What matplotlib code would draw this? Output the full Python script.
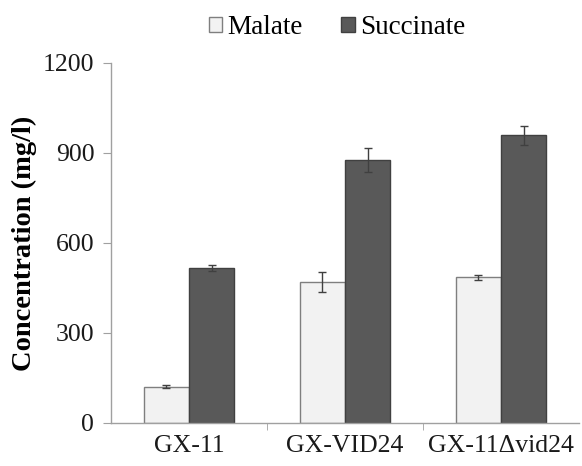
import numpy as np
import matplotlib.pyplot as plt
from matplotlib.ticker import FixedLocator

# Data
strains = ['GX-11', 'GX-VID24', 'GX-11\u0394vid24']
malate = [120, 470, 485]
malate_err = [5, 33, 8]
succinate = [515, 875, 958]
succinate_err = [10, 40, 32]

plt.rcParams['font.family'] = ['Liberation Serif', 'DejaVu Serif']

fig = plt.figure(figsize=(5.82, 4.66), dpi=100)
ax = fig.add_axes([0.1907, 0.0923, 0.804, 0.773])

x = np.arange(len(strains))
w = 0.29
err_kw = dict(ecolor='#404040', elinewidth=1, capsize=3, capthick=1)
ax.bar(x - w / 2, malate, w, yerr=malate_err, color='#f2f2f2',
       edgecolor='#7f7f7f', linewidth=1, label='Malate', error_kw=err_kw)
ax.bar(x + w / 2, succinate, w, yerr=succinate_err, color='#595959',
       edgecolor='#404040', linewidth=1, label='Succinate', error_kw=err_kw)

ax.set_xlim(-0.5, len(strains) - 0.5)
ax.set_ylim(0, 1200)
ax.set_yticks([0, 300, 600, 900, 1200])
ax.set_xticks(x)
ax.set_xticklabels(strains)
ax.xaxis.set_minor_locator(FixedLocator([0.5, 1.5]))
ax.tick_params(axis='x', which='major', length=0, pad=9, labelsize=18.5,
               labelcolor='#1a1a1a')
ax.tick_params(axis='x', which='minor', length=5, color='#a0a0a0')
ax.tick_params(axis='y', length=6, color='#a0a0a0', pad=6, labelsize=18.5,
               labelcolor='#1a1a1a')

for side in ['top', 'right']:
    ax.spines[side].set_visible(False)
for side in ['left', 'bottom']:
    ax.spines[side].set_color('#a0a0a0')
    ax.spines[side].set_linewidth(1)

ax.set_ylabel('Concentration (mg/l)', fontsize=20.5, fontweight='bold', labelpad=4)

ax.legend(loc='center', bbox_to_anchor=(0.483, 1.097), ncol=2, frameon=False,
          fontsize=19.5, handlelength=0.5, handleheight=0.5, handletextpad=0.2,
          columnspacing=1.4)

fig.savefig('out.png', dpi=100)
